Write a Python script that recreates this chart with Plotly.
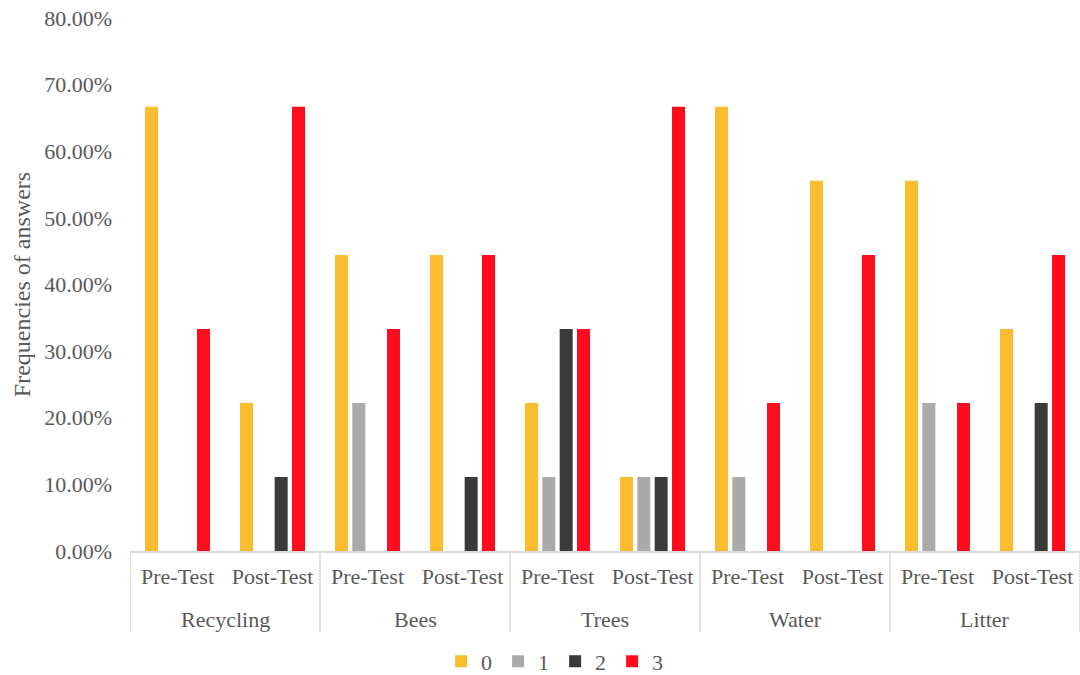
import plotly.graph_objects as go

groups = ["Recycling", "Bees", "Trees", "Water", "Litter"]
tests = ["Pre-Test", "Post-Test"]
categories = [f"{g}|{t}" for g in groups for t in tests]
tick_labels = [t for g in groups for t in tests]

s0 = [66.67, 22.22, 44.44, 44.44, 22.22, 11.11, 66.67, 55.56, 55.56, 33.33]
s1 = [0, 0, 22.22, 0, 11.11, 11.11, 11.11, 0, 22.22, 0]
s2 = [0, 11.11, 0, 11.11, 33.33, 11.11, 0, 0, 0, 22.22]
s3 = [33.33, 66.67, 33.33, 44.44, 33.33, 66.67, 22.22, 44.44, 22.22, 44.44]

series = [("0", s0, "#FBBC2E"), ("1", s1, "#ABA9A9"), ("2", s2, "#3A3A3A"), ("3", s3, "#FF0D1E")]

fig = go.Figure()
for name, vals, col in series:
    fig.add_trace(go.Bar(x=categories, y=[v / 100 for v in vals], name=name,
                         marker=dict(color=col, line=dict(width=0))))

font = "Liberation Serif, Times New Roman, serif"
grey = "#595959"
line_col = "#D9D9D9"

plot_top, plot_h = 18, 533

# group labels and dividers
for i, g in enumerate(groups):
    fig.add_annotation(x=2 * i + 0.5, xref="x", y=(plot_top + plot_h - 619) / plot_h, yref="paper",
                       text=g, showarrow=False,
                       font=dict(size=22, color=grey, family=font), yanchor="middle")
for k in range(len(groups) + 1):
    fig.add_shape(type="line", xref="x", yref="paper", x0=2 * k - 0.5, x1=2 * k - 0.5,
                  y0=0, y1=-81 / plot_h, line=dict(color=line_col, width=1.5))

fig.update_layout(
    width=1080, height=675,
    margin=dict(l=130, r=0, t=18, b=124, autoexpand=False),
    paper_bgcolor="white", plot_bgcolor="white",
    barmode="group", bargap=0.27, bargroupgap=0.25,
    font=dict(family=font, size=22, color=grey),
    showlegend=True,
    legend=dict(orientation="h", xref="container", x=0.514, xanchor="center",
                yref="container", y=0.02, yanchor="middle",
                font=dict(size=22), itemwidth=30, entrywidth=12, entrywidthmode="pixels",
                tracegroupgap=0),
    xaxis=dict(type="category", range=[-0.5, 9.5], showline=True, linecolor=line_col, linewidth=1.5,
               showgrid=False, tickmode="array", tickvals=categories, ticktext=tick_labels,
               tickfont=dict(size=22), ticks="", ticklabelstandoff=5, automargin=False),
    yaxis=dict(range=[0, 0.8], dtick=0.1, tickformat=".2%", showgrid=False, zeroline=False,
               title=dict(text="Frequencies of answers", font=dict(size=24), standoff=6),
               tickfont=dict(size=22), ticks="", ticklabelstandoff=17, automargin=False),
)

fig.write_html("out.html")
